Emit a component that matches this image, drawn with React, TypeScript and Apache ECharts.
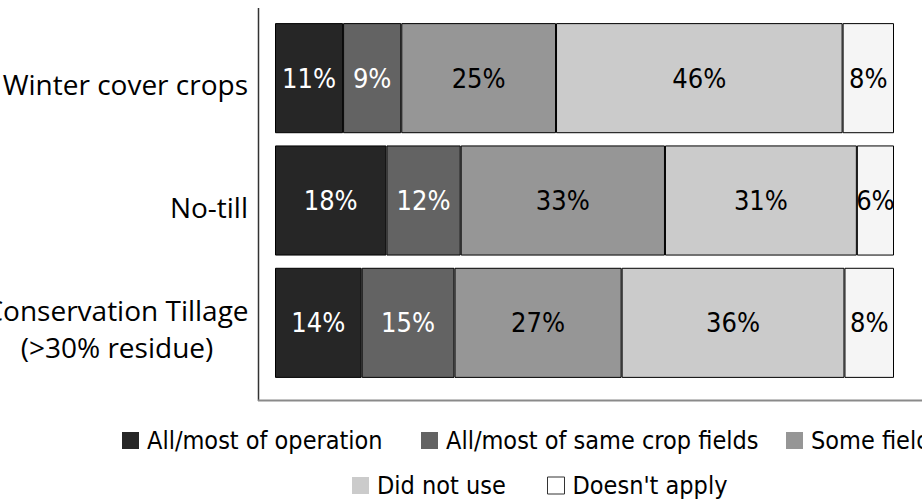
import React, { useEffect, useRef } from "react";
import * as echarts from "echarts";

const categories = ["Winter cover crops", "No-till", "Conservation Tillage\n(>30% residue)"];
const seriesNames = [
  "All/most of operation",
  "All/most of same crop fields",
  "Some fields",
  "Did not use",
  "Doesn't apply",
];
const allMostOperation = [11, 18, 14];
const allMostSameCropFields = [9.4, 12, 15];
const someFields = [25, 33, 27];
const didNotUse = [46.3, 31, 36];
const doesntApply = [8.3, 6, 8];

const seriesValues = [allMostOperation, allMostSameCropFields, someFields, didNotUse, doesntApply];
const colors = ["#262626", "#636363", "#969696", "#cbcbcb", "#f5f5f5"];
const labelColors = ["#ffffff", "#ffffff", "#000000", "#000000", "#000000"];
const legendPos = [
  { left: 122, top: 428 },
  { left: 421, top: 428 },
  { left: 786, top: 428 },
  { left: 352, top: 473 },
  { left: 547, top: 473 },
];

const condensed = "'DejaVu Sans Condensed', 'Liberation Sans Narrow', sans-serif";

export default function App() {
  const ref = useRef<HTMLDivElement>(null);
  useEffect(() => {
    if (!ref.current) return;
    const chart = echarts.init(ref.current, null, { renderer: "svg" });
    const option: any = {
      animation: false,
      backgroundColor: "#ffffff",
      grid: {
        left: 275,
        top: 17,
        width: 619,
        height: 367,
        containLabel: false,
        outerBoundsMode: "none",
      },
      xAxis: { type: "value", min: 0, max: 100, show: false },
      yAxis: {
        type: "category",
        data: categories,
        inverse: true,
        axisLine: { show: false },
        axisTick: { show: false },
        splitLine: { show: false },
        axisLabel: {
          margin: 27,
          color: "#000",
          fontFamily: "'Open Sans', sans-serif",
          fontSize: 28,
          padding: [12, 0, 0, 0],
          formatter: (v: string) =>
            v.indexOf("\n") >= 0
              ? v
                  .split("\n")
                  .map((s) => "{c|" + s + "}")
                  .join("\n")
              : v,
          rich: {
            c: {
              width: 262,
              align: "center",
              fontFamily: "'Open Sans', sans-serif",
              fontSize: 28,
              lineHeight: 37,
              color: "#000",
            },
          },
        },
      },
      legend: seriesNames.map((name, i) => ({
        data: [
          {
            name,
            itemStyle:
              i === 4
                ? { color: "#ffffff", borderColor: "#333", borderWidth: 1 }
                : { borderWidth: 0 },
          },
        ],
        left: legendPos[i].left,
        top: legendPos[i].top,
        width: 800,
        padding: 0,
        icon: "rect",
        itemWidth: 17,
        itemHeight: 17,
        itemGap: 5,
        selectedMode: false,
        textStyle: {
          fontFamily: condensed,
          fontSize: 25,
          color: "#000",
          padding: [0, 0, 0, 3],
        },
      })),
      series: seriesNames.map((name, i) => ({
        name,
        type: "bar",
        stack: "total",
        barCategoryGap: "10%",
        data: seriesValues[i],
        itemStyle: { color: colors[i], borderColor: "#000", borderWidth: 1 },
        label: {
          show: true,
          position: "inside",
          color: labelColors[i],
          fontFamily: condensed,
          fontSize: 27,
          formatter: (p: any) => Math.round(p.value) + "%",
        },
      })),
      graphic: [
        {
          type: "line",
          shape: { x1: 258.5, y1: 8, x2: 258.5, y2: 401 },
          style: { stroke: "#333", lineWidth: 1.5 },
        },
        {
          type: "line",
          shape: { x1: 258, y1: 400.5, x2: 922, y2: 400.5 },
          style: { stroke: "#8a8a8a", lineWidth: 2 },
        },
      ],
    };
    chart.setOption(option);
    return () => chart.dispose();
  }, []);
  return (
    <div
      ref={ref}
      style={{ position: "fixed", left: 0, top: 0, width: 922, height: 502 }}
    />
  );
}
